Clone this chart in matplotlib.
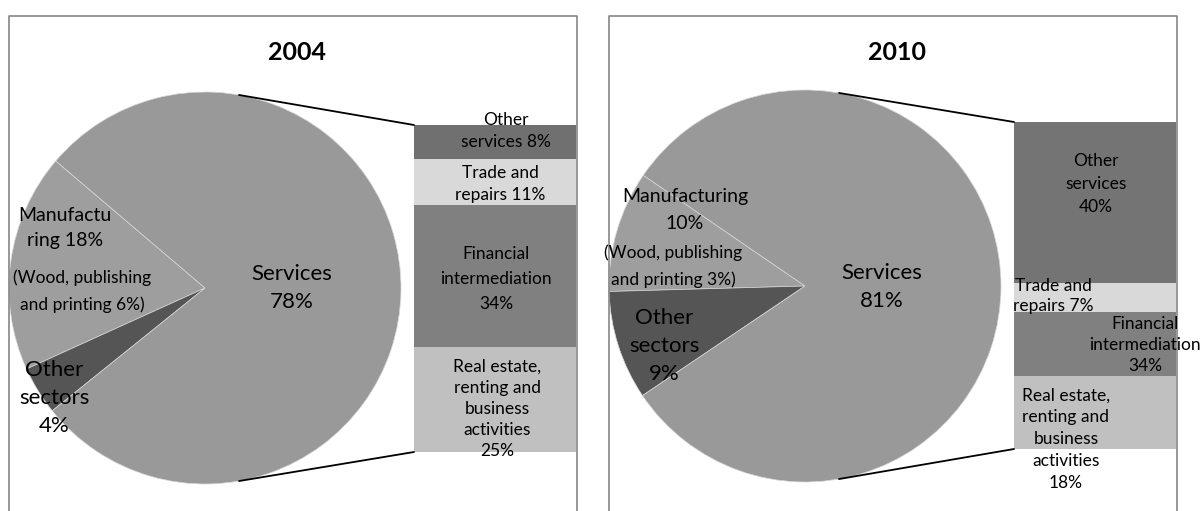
import numpy as np
import matplotlib
matplotlib.use('Agg')
import matplotlib.pyplot as plt
from matplotlib.lines import Line2D
from matplotlib.patches import ConnectionPatch

plt.rcParams['font.family'] = ['Lato', 'DejaVu Sans']

# data
years = ['2004', '2010']
pie_names = ['Manufacturing', 'Other sectors', 'Services']
pie_2004 = [18, 4, 78]
pie_2010 = [10, 9, 81]
pie_colors = ['#9e9e9e', '#555555', '#999999']

# breakdown of services, bottom to top (bar heights as drawn)
bar_names = ['Real estate, renting and business activities', 'Financial intermediation',
             'Trade and repairs', 'Other services']
bar_2004 = [25, 34, 11, 8]
bar_2010 = [18, 16, 7, 40]
bar_colors_2004 = ['#c0c0c0', '#808080', '#d9d9d9', '#707070']
bar_colors_2010 = ['#c0c0c0', '#808080', '#d9d9d9', '#747474']

pie_text_2004 = ['Manufactu\nring 18%', 'Other\nsectors\n4%', 'Services\n78%']
pie_text_2010 = ['Manufacturing\n10%', 'Other\nsectors\n9%', 'Services\n81%']
wood_text = ['(Wood, publishing\nand printing 6%)', '(Wood, publishing\nand printing 3%)']
bar_text_2004 = ['Real estate,\nrenting and\nbusiness\nactivities\n25%', 'Financial\nintermediation\n34%',
                 'Trade and\nrepairs 11%', 'Other\nservices 8%']
bar_text_2010 = ['Real estate,\nrenting and\nbusiness\nactivities\n18%', 'Financial\nintermediation\n34%',
                 'Trade and\nrepairs 7%', 'Other\nservices\n40%']

W, H = 1204, 511
fig = plt.figure(figsize=(W / 100, H / 100), dpi=100)


def fx(px):
    return px / W


def fy(py):
    return 1 - py / H


def txt(x, y, s, size, ls=1.2, **kw):
    fig.text(fx(x), fy(y), s, fontsize=size, ha='center', va='center',
             linespacing=ls, color='black', **kw)


def draw_panel(x0, x1, cx, cy, r, start, vals, bar_vals, bar_cols, bar_box):
    # panel border (bottom is cut off by the image)
    fig.add_artist(Line2D([fx(x0), fx(x0), fx(x1), fx(x1)], [fy(H + 20), fy(16), fy(16), fy(H + 20)],
                          transform=fig.transFigure, color='#868686', lw=1.2))

    ax = fig.add_axes([fx(cx - r), fy(cy + r), 2 * r / W, 2 * r / H])
    ax.pie(vals, colors=pie_colors, startangle=start, counterclock=True, radius=1,
           wedgeprops=dict(edgecolor='#d8d8d8', linewidth=0.5))
    ax.set_xlim(-1, 1)
    ax.set_ylim(-1, 1)
    ax.axis('off')

    bl, bt, br, bb = bar_box
    bx = fig.add_axes([fx(bl), fy(bb), (br - bl) / W, (bb - bt) / H])
    bottoms = np.concatenate([[0], np.cumsum(bar_vals)[:-1]])
    bx.bar(0, bar_vals, bottom=bottoms, width=1, color=bar_cols, linewidth=0)
    bx.set_xlim(-0.5, 0.5)
    bx.set_ylim(0, sum(bar_vals))
    bx.axis('off')

    a = np.deg2rad(80)
    for sgn, yb in [(1, sum(bar_vals)), (-1, 0)]:
        con = ConnectionPatch(xyA=(np.cos(a), sgn * np.sin(a)), coordsA=ax.transData,
                              xyB=(-0.5, yb), coordsB=bx.transData, color='black', lw=1.3)
        fig.add_artist(con)


draw_panel(9, 577, 205, 288, 196, 139.6, pie_2004, bar_2004, bar_colors_2004, (414, 125, 576, 452))
draw_panel(609, 1177, 805, 286, 196, 145.6, pie_2010, bar_2010, bar_colors_2010, (1014, 122, 1176, 449))

# 2004 texts
txt(297, 52, years[0], 18, weight='bold')
txt(292, 288, pie_text_2004[2], 16, ls=1.55)
txt(65, 228, pie_text_2004[0], 14, ls=1.6)
txt(82, 291, wood_text[0], 12.5, ls=1.8)
txt(54, 398, pie_text_2004[1], 16, ls=1.5)
txt(506, 131, bar_text_2004[3], 12.5, ls=1.5)
txt(500, 184, bar_text_2004[2], 12.5, ls=1.5)
txt(496, 279, bar_text_2004[1], 12.5, ls=1.7)
txt(497, 409, bar_text_2004[0], 12.5, ls=1.4)

# 2010 texts
txt(897, 52, years[1], 18, weight='bold')
txt(882, 287, pie_text_2010[2], 16, ls=1.55)
txt(685, 210, pie_text_2010[0], 14, ls=1.65)
txt(673, 266, wood_text[1], 12.5, ls=1.75)
txt(664, 346, pie_text_2010[1], 16, ls=1.5)
txt(1096, 184, bar_text_2010[3], 12.5, ls=1.5)
txt(1053, 296, bar_text_2010[2], 12.5, ls=1.35)
txt(1145, 345, bar_text_2010[1], 12.5, ls=1.4)
txt(1066, 439, bar_text_2010[0], 12.5, ls=1.45)

fig.savefig('out.png', dpi=100)
